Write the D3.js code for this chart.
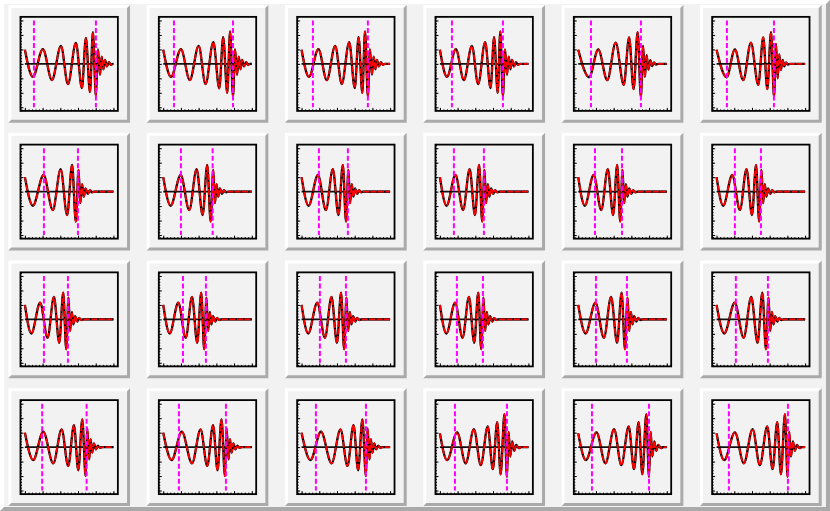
<!DOCTYPE html>
<html lang="en">
<head>
<meta charset="UTF-8">
<title>Waveform fits</title>
<script src="https://d3js.org/d3.v7.min.js"></script>
<style>
    body { margin: 0; padding: 0; background: #f2f2f2; }
    svg { display: block; }
</style>
</head>
<body>
<svg width="830" height="511"></svg>
<script>
// axis ticks (labels are not shown in the reference)
const xTicks = [0, 20, 40, 60, 80, 100];
const yTicks = [-1.2, -0.8, -0.4, 0, 0.4, 0.8, 1.2];

// left / right dashed marker positions, one pair per pad
const markers = [
    [10.2, 80.2], [12.1, 78.8], [12.8, 74.9], [13.6, 71.2], [14.4, 70.8], [11.7, 64.8],
    [21.5, 59.9], [20.0, 55.8], [19.6, 52.3], [15.8, 49.7], [18.9, 49.4], [20.7, 50.1],
    [21.5, 48.6], [22.3, 48.2], [20.7, 50.1], [19.2, 48.6], [20.0, 55.0], [21.8, 58.0],
    [19.5, 69.7], [17.7, 70.8], [16.2, 72.7], [17.0, 75.7], [15.5, 79.9], [13.9, 80.6]
];

// waveform turning points [t, h]
const waves = [
    [[0,.39],[9,-.36],[20.3,.41],[30.5,-.45],[40.7,.5],[48.6,-.56],[57.6,.58],[64.4,-.67],[68.9,.72],[73.5,-.78],[76.8,.88],[80.2,-.89],[82.5,.4],[84.8,-.3],[86.7,.2],[88.7,-.15],[90.4,.11],[92.7,-.07],[94.9,.05],[97.2,-.03],[99.4,0],[100,0]],
    [[0,.39],[8.8,-.36],[20,.41],[30,-.45],[40,.5],[47.8,-.56],[56.6,.6],[63.3,-.68],[67.7,.74],[72.3,-.8],[75.5,.9],[78.8,-.9],[81.1,.4],[83.4,-.3],[85.3,.2],[87.3,-.15],[89,.11],[91.3,-.07],[93.5,.05],[95.8,-.03],[98,0],[100,0]],
    [[0,.39],[8.4,-.36],[19,.41],[28.5,-.45],[38,.5],[45.4,-.56],[53.8,.6],[60.1,-.67],[64.4,.74],[68.6,-.8],[71.7,.9],[74.9,-.9],[77.2,.4],[79.5,-.3],[81.4,.2],[83.4,-.15],[85.1,.11],[87.4,-.07],[89.6,.05],[91.9,-.03],[94.1,0],[100,0]],
    [[0,.39],[8,-.36],[18,.41],[27.1,-.45],[36.1,.5],[43.2,-.56],[51.1,.6],[57.2,-.67],[61.2,.74],[65.3,-.8],[68.2,.9],[71.2,-.9],[73.5,.4],[75.8,-.3],[77.7,.2],[79.7,-.15],[81.4,.11],[83.7,-.07],[85.9,.05],[88.2,-.03],[90.4,0],[100,0]],
    [[0,.39],[12.3,-.37],[22.6,.4],[32.8,-.45],[42.3,.59],[51.4,-.58],[57.5,.73],[62.5,-.7],[67.1,.88],[70.8,-.91],[73.2,.5],[75.3,-.36],[77.2,.24],[79.3,-.16],[81.4,.1],[83.5,-.06],[85.6,.04],[87.8,-.02],[90.5,0],[100,0]],
    [[0,.39],[11.3,-.37],[20.7,.4],[30.1,-.45],[38.8,.59],[47.1,-.58],[52.7,.73],[57.3,-.7],[61.5,.88],[64.9,-.91],[67.1,.55],[69,-.4],[70.8,.26],[72.7,-.17],[74.6,.11],[76.5,-.07],[78.5,.04],[80.5,-.02],[83,0],[100,0]],

    [[0,.4],[9,-.39],[21.1,.46],[31.5,-.51],[40.4,.62],[47.7,-.65],[53.3,.74],[57.5,-.83],[60.6,.6],[62.6,-.32],[64.6,.21],[66.5,-.14],[68.5,.09],[71,-.06],[73.4,.04],[75.9,-.02],[79,0],[100,0]],
    [[0,.4],[8.4,-.39],[19.7,.46],[29.4,-.51],[37.7,.62],[44.5,-.65],[49.7,.74],[53.6,-.83],[56.5,.6],[58.4,-.32],[60.3,.21],[62.1,-.14],[64,.09],[66.3,-.06],[68.6,.04],[70.9,-.02],[74,0],[100,0]],
    [[0,.4],[7.9,-.39],[18.5,.46],[27.5,-.51],[35.3,.62],[41.7,-.65],[46.6,.74],[50.2,-.83],[52.9,.6],[54.8,-.32],[56.7,.21],[58.5,-.14],[60.4,.09],[62.7,-.06],[65,.04],[67.3,-.02],[70.4,0],[100,0]],
    [[0,.4],[7.5,-.39],[17.6,.46],[26.2,-.51],[33.6,.62],[39.6,-.65],[44.3,.74],[47.8,-.83],[50.3,.6],[52.2,-.32],[54.1,.21],[55.9,-.14],[57.8,.09],[60.1,-.06],[62.4,.04],[64.7,-.02],[67.8,0],[100,0]],
    [[0,.4],[7.4,-.39],[17.4,.46],[26,-.51],[33.4,.62],[39.4,-.65],[44,.74],[47.4,-.83],[50,.6],[51.9,-.32],[53.8,.21],[55.6,-.14],[57.5,.09],[59.8,-.06],[62.1,.04],[64.4,-.02],[67.5,0],[100,0]],
    [[0,.4],[7.5,-.39],[17.7,.46],[26.4,-.51],[33.8,.62],[40,-.65],[44.6,.74],[48.1,-.83],[50.7,.6],[52.6,-.32],[54.5,.21],[56.3,-.14],[58.2,.09],[60.5,-.06],[62.8,.04],[65.1,-.02],[68.2,0],[100,0]],

    [[0,.4],[7.3,-.39],[17.2,.46],[25.6,-.51],[32.8,.62],[38.8,-.65],[43.3,.74],[46.7,-.83],[49.2,.6],[51.1,-.32],[53,.21],[54.8,-.14],[56.7,.09],[59,-.06],[61.3,.04],[63.6,-.02],[66.7,0],[100,0]],
    [[0,.4],[7.3,-.39],[17,.46],[25.4,-.51],[32.5,.62],[38.4,-.65],[42.9,.74],[46.3,-.83],[48.8,.6],[50.7,-.32],[52.6,.21],[54.4,-.14],[56.3,.09],[58.6,-.06],[60.9,.04],[63.2,-.02],[66.3,0],[100,0]],
    [[0,.4],[7.5,-.39],[17.7,.46],[26.4,-.51],[33.8,.62],[40,-.65],[44.6,.74],[48.1,-.83],[50.7,.6],[52.6,-.32],[54.5,.21],[56.3,-.14],[58.2,.09],[60.5,-.06],[62.8,.04],[65.1,-.02],[68.2,0],[100,0]],
    [[0,.4],[7.3,-.39],[17.2,.46],[25.6,-.51],[32.8,.62],[38.8,-.65],[43.3,.74],[46.7,-.83],[49.2,.6],[51.1,-.32],[53,.21],[54.8,-.14],[56.7,.09],[59,-.06],[61.3,.04],[63.6,-.02],[66.7,0],[100,0]],
    [[0,.4],[8.3,-.39],[19.4,.46],[29,-.51],[37.1,.62],[43.9,-.65],[49,.74],[52.8,-.83],[55.7,.6],[57.6,-.32],[59.5,.21],[61.3,-.14],[63.2,.09],[65.5,-.06],[67.8,.04],[70.1,-.02],[73.2,0],[100,0]],
    [[0,.4],[8.7,-.39],[20.5,.46],[30.6,-.51],[39.2,.62],[46.3,-.65],[51.7,.74],[55.8,-.83],[58.7,.6],[60.6,-.32],[62.5,.21],[64.3,-.14],[66.2,.09],[68.5,-.06],[70.8,.04],[73.1,-.02],[76.2,0],[100,0]],

    [[0,.4],[9.4,-.36],[20.7,.43],[32,-.45],[41.5,.49],[48.9,-.52],[55.4,.61],[60.3,-.64],[64.8,.77],[68.6,-.8],[70.4,.52],[72.7,-.34],[74.2,.22],[76,-.15],[78,.1],[80.2,-.06],[82.5,.04],[84.7,-.02],[88,0],[100,0]],
    [[0,.4],[9.5,-.36],[21,.43],[32.5,-.45],[42.2,.49],[49.7,-.52],[56.3,.61],[61.3,-.64],[65.8,.77],[69.7,-.8],[71.5,.52],[73.9,-.34],[75.4,.22],[77.2,-.15],[79.2,.1],[81.5,-.06],[83.8,.04],[86,-.02],[89.4,0],[100,0]],
    [[0,.4],[10,-.36],[21.9,.43],[33.9,-.45],[44,.49],[51.8,-.52],[58.7,.61],[63.9,-.64],[68.7,.77],[72.7,-.8],[74.5,.52],[76.8,-.34],[78.3,.22],[80.1,-.15],[82.1,.1],[84.3,-.06],[86.6,.04],[88.8,-.02],[92.1,0],[100,0]],
    [[0,.38],[8.1,-.36],[19.5,.41],[29.1,-.45],[38.4,.5],[46.2,-.5],[54,.57],[59.8,-.61],[64.7,.69],[68.6,-.75],[72.9,.91],[75.7,-.82],[77.6,.42],[79.5,-.26],[81.7,.16],[84,-.1],[86.2,.06],[89.1,-.03],[91.9,0],[100,0]],
    [[0,.38],[8.6,-.36],[20.6,.41],[30.7,-.45],[40.5,.5],[48.7,-.5],[57,.57],[63,-.61],[68.2,.69],[72.4,-.75],[76.9,.91],[79.9,-.82],[81.8,.42],[83.7,-.26],[85.9,.16],[88.2,-.1],[90.4,.06],[93.3,-.03],[96.1,0],[100,0]],
    [[0,.38],[8.6,-.36],[20.7,.41],[30.8,-.45],[40.7,.5],[48.9,-.5],[57.2,.57],[63.3,-.61],[68.5,.69],[72.7,-.75],[77.2,.91],[80.2,-.82],[82.1,.42],[84,-.26],[86.2,.16],[88.5,-.1],[90.7,.06],[93.6,-.03],[96.4,0],[100,0]]
];

const svg = d3.select("svg");
const W = +svg.attr("width"), H = +svg.attr("height");
const nx = 6, ny = 4;
const bg = "#f2f2f2", light = "#ffffff", dark = "#aaaaaa";

// raised bevel box like a ROOT pad
function bevel(g, x, y, w, h, b) {
    g.append("rect").attr("x", x).attr("y", y).attr("width", w).attr("height", h).attr("fill", bg);
    g.append("polygon")
        .attr("points", [[x, y], [x + w, y], [x + w - b, y + b], [x + b, y + b], [x + b, y + h - b], [x, y + h]].join(" "))
        .attr("fill", light);
    g.append("polygon")
        .attr("points", [[x + w, y + h], [x, y + h], [x + b, y + h - b], [x + w - b, y + h - b], [x + w - b, y + b], [x + w, y]].join(" "))
        .attr("fill", dark);
}

bevel(svg, 0, 0, W, H, 4);

const cw = W / nx, ch = H / ny;
const padW = cw - 0.02 * W, padH = ch - 0.02 * H;

const xMinor = d3.range(-1, 27).map(i => i * 4);
const yMinor = d3.range(-16, 17).map(i => i * 0.08);

waves.forEach(function(wave, i) {
    const col = i % nx, row = Math.floor(i / nx);
    const px = col * cw + 0.01 * W, py = row * ch + 0.01 * H;
    const pad = svg.append("g");
    bevel(pad, px, py, padW, padH, 3);

    const fx = px + 0.1 * padW, fy = py + 0.1 * padH;
    const fw = 0.8 * padW, fh = 0.8 * padH;

    const x = d3.scaleLinear().domain([-5, 105]).range([fx, fx + fw]);
    const y = d3.scaleLinear().domain([-1.3, 1.3]).range([fy + fh, fy]);

    // minor and major ticks pointing into the frame
    [[xMinor, 1.5], [xTicks, 3]].forEach(function(t) {
        pad.append("g")
            .attr("transform", `translate(0,${fy + fh})`)
            .call(d3.axisBottom(x).tickValues(t[0]).tickSize(-t[1]).tickFormat(""))
            .call(a => a.select(".domain").remove())
            .selectAll("line").attr("stroke-width", 1);
    });
    [[yMinor, 1.5], [yTicks, 3]].forEach(function(t) {
        pad.append("g")
            .attr("transform", `translate(${fx},0)`)
            .call(d3.axisLeft(y).tickValues(t[0]).tickSize(-t[1]).tickFormat(""))
            .call(a => a.select(".domain").remove())
            .selectAll("line").attr("stroke-width", 1);
    });

    pad.append("rect")
        .attr("x", fx).attr("y", fy).attr("width", fw).attr("height", fh)
        .attr("fill", "none").attr("stroke", "#000").attr("stroke-width", 1.8);

    const line = d3.line().x(d => x(d[0])).y(d => y(d[1])).curve(d3.curveMonotoneX);

    pad.append("path")
        .attr("d", line([[0, 0], [100, 0]]))
        .attr("fill", "none").attr("stroke", "#111").attr("stroke-width", 1.6);

    pad.append("path")
        .attr("d", line(wave))
        .attr("fill", "none").attr("stroke", "#000").attr("stroke-width", 2.3);

    pad.append("path")
        .attr("d", line(wave))
        .attr("fill", "none").attr("stroke", "#ff0000").attr("stroke-width", 1.8)
        .attr("stroke-dasharray", "6,1.5");

    markers[i].forEach(function(m) {
        pad.append("line")
            .attr("x1", x(m)).attr("x2", x(m))
            .attr("y1", y(1.2)).attr("y2", y(-1.2))
            .attr("stroke", "#ff00ff").attr("stroke-width", 2)
            .attr("stroke-dasharray", "5,2.5");
    });
});
</script>
</body>
</html>
